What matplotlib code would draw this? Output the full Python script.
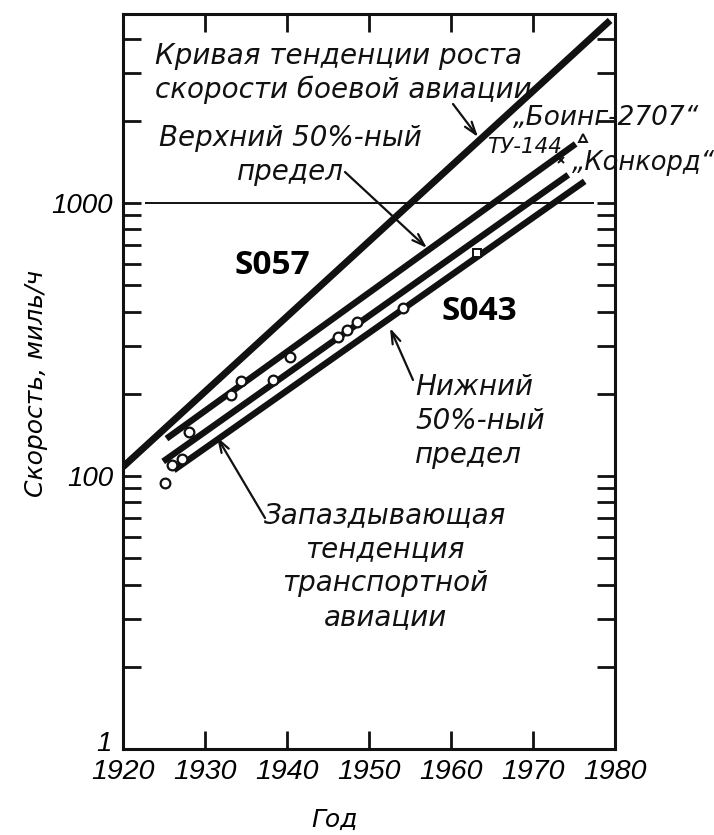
import matplotlib
matplotlib.use("Agg")
import matplotlib.pyplot as plt
import matplotlib.transforms as mtransforms
from matplotlib.ticker import FixedLocator, LogLocator, NullFormatter

# Values (speed in mph, log scale)
years_combat = [1920.0, 1979.4]
speed_combat = [108, 4660]
years_upper = [1925.3, 1975.2]
speed_upper = [137, 1645]
years_trend = [1924.9, 1974.3]
speed_trend = [113, 1267]
years_lower = [1926.2, 1976.3]
speed_lower = [105, 1200]

point_years = [1925.1, 1926.0, 1927.2, 1928.1, 1933.2, 1934.4,
               1938.3, 1940.4, 1946.2, 1947.3, 1948.5, 1954.1]
point_speeds = [94, 110, 115, 145, 198, 223, 225, 273, 322, 343, 367, 414]

square_years = [1963.2]
square_speeds = [655]
boeing_years = [1976.1]
boeing_speeds = [1730]
tu144_years = [1973.4]
tu144_speeds = [1440]

x_ticks = [1920, 1930, 1940, 1950, 1960, 1970, 1980]
x_tick_labels = ["1920", "1930", "1940", "1950", "1960", "1970", "1980"]
y_ticks = [10, 100, 1000]
y_tick_labels = ["1", "100", "1000"]

W, H = 714, 835
TEXT_FONT = ["DejaVu Sans"]
TICK_FONT = ["Liberation Sans", "DejaVu Sans"]
INK = "#111111"


def px(x, y):
    # pixel position on the page -> figure fraction
    return (x / W, 1 - y / H)


fig = plt.figure(figsize=(W / 100, H / 100), dpi=100)
ax = fig.add_axes([123 / W, 1 - 749 / H, (615 - 123) / W, (749 - 14) / H])

ax.set_yscale("log")
ax.set_xlim(1920, 1980)
ax.set_ylim(10, 4920)

lw = 4.6
ax.plot(years_combat, speed_combat, color=INK, lw=5.0, solid_capstyle="butt")
ax.plot(years_upper, speed_upper, color=INK, lw=lw, solid_capstyle="butt")
ax.plot(years_trend, speed_trend, color=INK, lw=lw, solid_capstyle="butt")
ax.plot(years_lower, speed_lower, color=INK, lw=lw, solid_capstyle="butt")

ax.hlines(1000, 1922.7, 1977.5, color=INK, lw=1.4)

ax.plot(point_years, point_speeds, "o", ms=7, mfc="white", mec=INK, mew=1.6, zorder=5)
ax.plot(square_years, square_speeds, "s", ms=5.5, mfc="white", mec=INK, mew=1.4, zorder=5)
ax.plot(boeing_years, boeing_speeds, "^", ms=6, mfc="white", mec=INK, mew=1.4, zorder=5)
ax.plot(tu144_years, tu144_speeds, "x", ms=5, mec=INK, mew=1.4, zorder=5)

# axes frame and ticks
for s in ax.spines.values():
    s.set_linewidth(2.2)
    s.set_color(INK)

ax.xaxis.set_major_locator(FixedLocator(x_ticks))
ax.set_xticklabels(x_tick_labels)
ax.yaxis.set_major_locator(FixedLocator(y_ticks))
ax.yaxis.set_minor_locator(LogLocator(base=10, subs=range(2, 10)))
ax.yaxis.set_minor_formatter(NullFormatter())
ax.set_yticklabels(y_tick_labels)

ax.tick_params(which="both", direction="in", top=True, right=True,
               length=13, width=2.0, color=INK)
ax.tick_params(axis="x", pad=7)
ax.tick_params(axis="y", pad=7)
for lab in ax.get_xticklabels():
    lab.set_family(TICK_FONT)
    lab.set_style("italic")
    lab.set_fontsize(20.5)
for lab in ax.get_yticklabels():
    lab.set_family(TICK_FONT)
    lab.set_style("italic")
    lab.set_fontsize(20)

# the bottom "1" sits a little above the corner in the original
bottom_lab = ax.get_yticklabels()[0]
bottom_lab.set_transform(bottom_lab.get_transform()
                         + mtransforms.ScaledTranslation(-2 / 100, 8 / 100, fig.dpi_scale_trans))

ax.set_xlabel("Год", family=TEXT_FONT, style="italic", fontsize=18)
ax.set_ylabel("Скорость, миль/ч", family=TEXT_FONT, style="italic", fontsize=18)
ax.xaxis.set_label_coords((335 - 123) / 492, (749 - 820) / 735)
ax.yaxis.set_label_coords((36 - 123) / 492, (749 - 383) / 735)
ax.xaxis.label.set_va("center")
ax.yaxis.label.set_va("center")

# va="baseline" anchors the last line of a multi-line text
txt = dict(family=TEXT_FONT, style="italic", fontsize=20, color=INK,
           transform=fig.transFigure, va="baseline", linespacing=1.27)

fig.text(*px(155, 98), "Кривая тенденции роста\nскорости боевой авиации", ha="left", **txt)
fig.text(*px(290, 180), "Верхний 50%-ный\nпредел", ha="center", multialignment="center", **txt)
fig.text(*px(415, 463), "Нижний\n50%-ный\nпредел", ha="left", **txt)
fig.text(*px(385, 625), "Запаздывающая\nтенденция\nтранспортной\nавиации",
         ha="center", multialignment="center", **txt)

fig.text(*px(513, 125), "„Боинг-2707“", ha="left", **dict(txt, fontsize=19))
fig.text(*px(487, 153), "ТУ-144", ha="left", **dict(txt, fontsize=15.5))
fig.text(*px(572, 170), "„Конкорд“", ha="left", **dict(txt, fontsize=18.5))

code = dict(family=["Open Sans", "DejaVu Sans"], weight="bold", fontsize=24,
            color="black", transform=fig.transFigure, ha="center", va="center")
fig.text(*px(272, 265), "S057", **code)
fig.text(*px(479, 311), "S043", **code)

arrow = dict(arrowstyle="->,head_length=0.9,head_width=0.3", color=INK, lw=1.6,
             shrinkA=0, shrinkB=0)
for tail, tip in [((453, 104), (478, 137)),
                  ((345, 172), (427, 248)),
                  ((413, 380), (390, 328)),
                  ((265, 518), (217, 437))]:
    ax.annotate("", xy=px(*tip), xycoords="figure fraction",
                xytext=px(*tail), textcoords="figure fraction", arrowprops=arrow)

fig.savefig("out.png", dpi=100)
